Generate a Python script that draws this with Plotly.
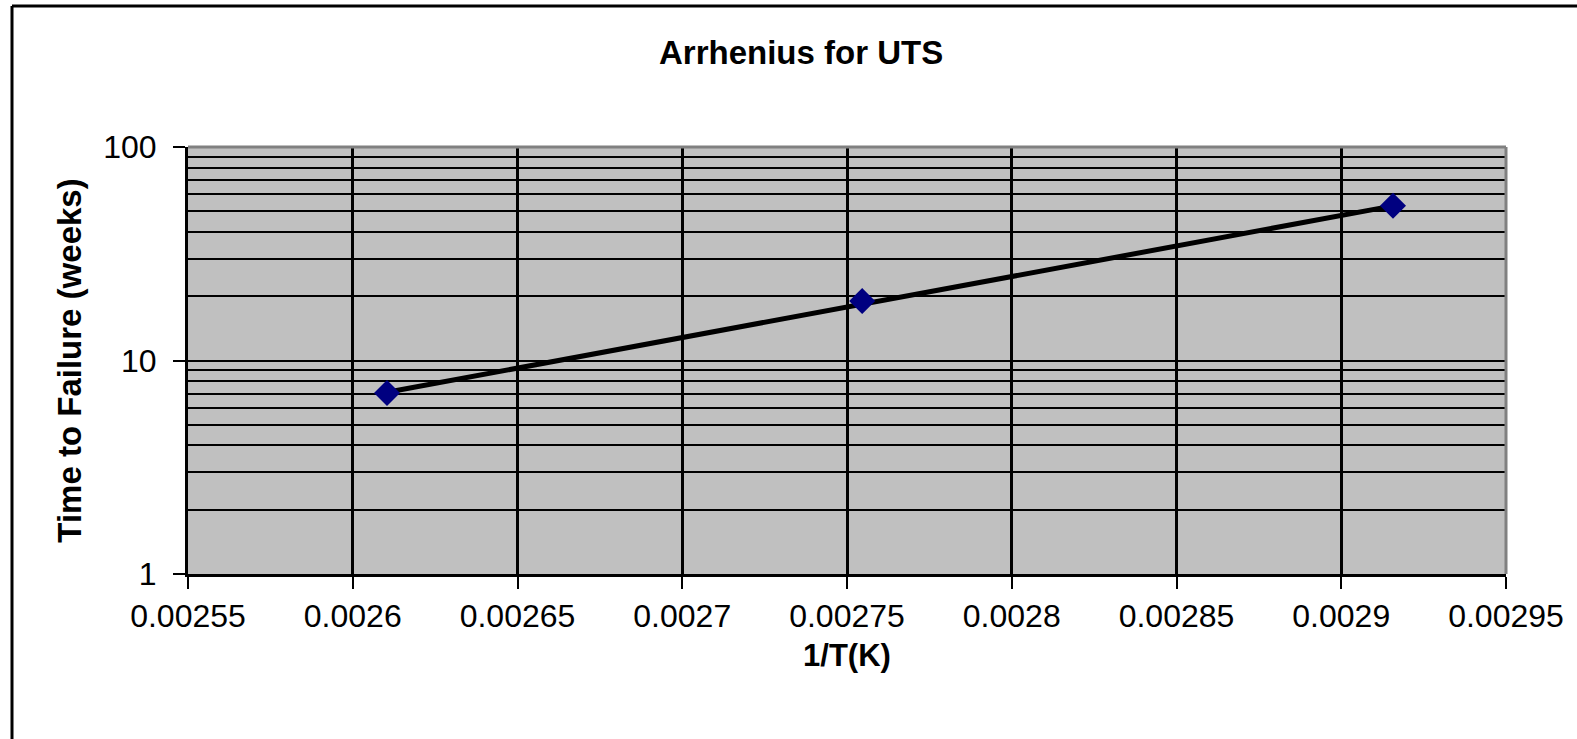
import plotly.graph_objects as go

# Data
x_vals = [0.0026104, 0.0027546, 0.0029157]   # 1/T (1/K)
y_vals = [7.04, 19.0, 53.0]                   # time to failure (weeks)

# Exponential trendline end points (straight on log axis)
trend_x = [0.0026104, 0.0029157]
trend_y = [7.1, 53.0]

x_tick_vals = [0.00255, 0.0026, 0.00265, 0.0027, 0.00275,
               0.0028, 0.00285, 0.0029, 0.00295]
x_tick_labels = ["0.00255", "0.0026", "0.00265", "0.0027", "0.00275",
                 "0.0028", "0.00285", "0.0029", "0.00295"]
y_tick_vals = [1, 10, 100]
y_tick_labels = ["1", "10", "100"]

###############################################################################
# Layout geometry (pixels)
###############################################################################
W, H = 1577, 739
plot_l, plot_r, plot_t, plot_b = 188, 1506, 147, 574
plot_w = plot_r - plot_l
plot_h = plot_b - plot_t
FONT = "Liberation Sans, Arial, sans-serif"


def px_to_paper_x(px):
    return (px - plot_l) / plot_w


def px_to_paper_y(py):
    return (plot_b - py) / plot_h


fig = go.Figure()

fig.add_trace(go.Scatter(x=trend_x, y=trend_y, mode="lines",
                         line=dict(color="black", width=5),
                         hoverinfo="skip", showlegend=False))
fig.add_trace(go.Scatter(x=x_vals, y=y_vals, mode="markers",
                         marker=dict(symbol="diamond", size=20,
                                     color="#000080",
                                     line=dict(width=0)),
                         showlegend=False))

fig.update_layout(
    width=W, height=H,
    margin=dict(l=plot_l, r=W - plot_r, t=plot_t, b=H - plot_b),
    paper_bgcolor="white",
    plot_bgcolor="#C0C0C0",
    font=dict(family=FONT, size=32, color="black"),
    title=dict(text="<b>Arrhenius for UTS</b>", x=0.508, xref="container",
               y=1 - 52 / H, yref="container", xanchor="center",
               yanchor="middle", font=dict(size=33, family=FONT)),
    showlegend=False,
)

fig.update_xaxes(
    range=[0.00255, 0.00295],
    tickmode="array", tickvals=x_tick_vals, ticktext=x_tick_labels,
    ticks="outside", ticklen=12, tickwidth=2, tickcolor="black",
    ticklabelstandoff=0,
    showline=True, linecolor="black", linewidth=3,
    showgrid=True, gridcolor="black", gridwidth=3,
    zeroline=False,
    title=dict(text="<b>1/T(K)</b>", standoff=11,
               font=dict(size=31, family=FONT)),
)

fig.update_yaxes(
    type="log", range=[0, 2],
    tickmode="array", tickvals=y_tick_vals, ticktext=y_tick_labels,
    ticks="outside", ticklen=12, tickwidth=2, tickcolor="black",
    ticklabelstandoff=10,
    showline=True, linecolor="black", linewidth=3,
    showgrid=True, gridcolor="black", gridwidth=2,
    minor=dict(dtick="D1", showgrid=True, gridcolor="black", gridwidth=2,
               ticks=""),
    zeroline=False,
    title=dict(text="<b>Time to Failure (weeks)</b>", standoff=12,
               font=dict(size=33, family=FONT)),
)

# Gray border on the top and right of the plot area
fig.add_shape(type="line", xref="paper", yref="paper", x0=0, x1=1, y0=1, y1=1,
              line=dict(color="#808080", width=3))
fig.add_shape(type="line", xref="paper", yref="paper", x0=1, x1=1, y0=0, y1=1,
              line=dict(color="#808080", width=3))

# Outer chart frame (left and top edges are visible)
fig.add_shape(type="line", xref="paper", yref="paper",
              x0=px_to_paper_x(12), x1=px_to_paper_x(W + 20),
              y0=px_to_paper_y(6), y1=px_to_paper_y(6),
              line=dict(color="black", width=3))
fig.add_shape(type="line", xref="paper", yref="paper",
              x0=px_to_paper_x(12), x1=px_to_paper_x(12),
              y0=px_to_paper_y(6), y1=px_to_paper_y(H + 20),
              line=dict(color="black", width=3))

# drop the default page margin so the figure sits at the window corner
fig.write_html("out.html", config={"displayModeBar": False},
               post_script="document.body.style.margin = '0';")
